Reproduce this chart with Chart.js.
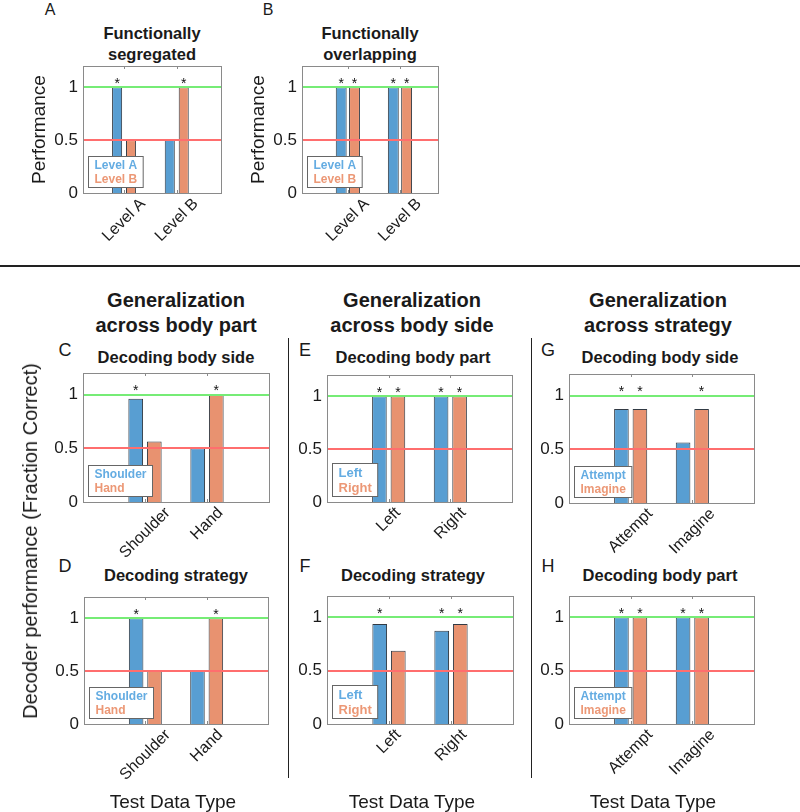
<!DOCTYPE html>
<html lang="en">
<head>
    <meta charset="UTF-8">
    <title>Decoder performance</title>
    <script src="https://cdn.jsdelivr.net/npm/chart.js"></script>
    <style>
        body { margin: 0; background: #fff; }
        #fig {
            position: relative;
            width: 800px;
            height: 812px;
            background: #fff;
            font-family: 'Liberation Sans', Arial, sans-serif;
            color: #1a1a1a;
            overflow: hidden;
        }
        #fig canvas { position: absolute; }
        .txt {
            position: absolute;
            white-space: nowrap;
            line-height: 1;
            transform: translate(-50%, -50%);
        }
        .rule { position: absolute; background: #222; }
    </style>
</head>
<body>
    <div id="fig"></div>

    <script>
        // ---- data ----
        const catPos = [1, 2];
        const yTicks = [0, 0.5, 1];

        const catsLevel = ['Level A', 'Level B'];
        const segLevelA = [1, 0.5];
        const segLevelB = [0.5, 1];
        const segSigA = [1, 0];
        const segSigB = [0, 1];
        const ovlLevelA = [1, 1];
        const ovlLevelB = [1, 1];
        const ovlSigA = [1, 1];
        const ovlSigB = [1, 1];

        const catsPart = ['Shoulder', 'Hand'];
        const sideShoulder = [0.96, 0.5];
        const sideHand = [0.5625, 1];
        const sideSigShoulder = [1, 0];
        const sideSigHand = [0, 1];
        const stratShoulder = [1, 0.5];
        const stratHand = [0.5, 1];
        const stratSigShoulder = [1, 0];
        const stratSigHand = [0, 1];

        const catsSide = ['Left', 'Right'];
        const partLeft = [1, 1];
        const partRight = [1, 1];
        const partSigLeft = [1, 1];
        const partSigRight = [1, 1];
        const strat2Left = [0.9375, 0.875];
        const strat2Right = [0.6875, 0.9375];
        const strat2SigLeft = [1, 1];
        const strat2SigRight = [0, 1];

        const catsStrategy = ['Attempt', 'Imagine'];
        const side2Attempt = [0.875, 0.5625];
        const side2Imagine = [0.875, 0.875];
        const side2SigAttempt = [1, 0];
        const side2SigImagine = [1, 1];
        const part2Attempt = [1, 1];
        const part2Imagine = [1, 1];
        const part2SigAttempt = [1, 1];
        const part2SigImagine = [1, 1];

        // ---- styling ----
        const FONT = "'Liberation Sans', Arial, sans-serif";
        const BLUE = 'rgb(88,158,210)';
        const ORANGE = 'rgb(232,146,112)';
        const BLUE_TXT = 'rgb(100,172,226)';
        const ORANGE_TXT = 'rgb(236,152,118)';
        const EDGE = 'rgb(50,58,68)';
        Chart.defaults.font.family = FONT;

        const fig = document.getElementById('fig');

        function text(str, x, y, size, bold, rot) {
            const d = document.createElement('div');
            d.className = 'txt';
            d.textContent = str;
            d.style.left = x + 'px';
            d.style.top = y + 'px';
            d.style.fontSize = size + 'px';
            if (bold) d.style.fontWeight = 'bold';
            if (rot) d.style.transform = 'translate(-50%, -50%) rotate(' + rot + 'deg)';
            fig.appendChild(d);
        }

        function rule(x, y, w, h) {
            const d = document.createElement('div');
            d.className = 'rule';
            d.style.left = x + 'px';
            d.style.top = y + 'px';
            d.style.width = w + 'px';
            d.style.height = h + 'px';
            fig.appendChild(d);
        }

        function hline(ctx, a, py, color) {
            ctx.strokeStyle = color;
            ctx.lineWidth = 2;
            ctx.beginPath();
            ctx.moveTo(a.left, Math.round(py));
            ctx.lineTo(a.right, Math.round(py));
            ctx.stroke();
        }

        // box, reference lines, asterisks, inset legend and rotated category labels
        const panelDecor = {
            id: 'panelDecor',
            afterDatasetsDraw(chart, args, opts) {
                const { ctx, chartArea: a, scales: { x, y } } = chart;
                ctx.save();

                // perfect and chance lines, drawn over the bars
                hline(ctx, a, y.getPixelForValue(1), 'rgb(118,236,118)');
                hline(ctx, a, y.getPixelForValue(0.5), 'rgb(255,110,110)');

                // axes box with small inward ticks
                ctx.lineWidth = 1;
                ctx.strokeStyle = '#8a8a8a';
                ctx.strokeRect(Math.round(a.left) + 0.5, Math.round(a.top) + 0.5,
                    Math.round(a.right - a.left), Math.round(a.bottom - a.top));
                ctx.beginPath();
                catPos.forEach(v => {
                    const px = Math.round(x.getPixelForValue(v)) + 0.5;
                    ctx.moveTo(px, a.top); ctx.lineTo(px, a.top + 3);
                    ctx.moveTo(px, a.bottom); ctx.lineTo(px, a.bottom - 3);
                });
                ctx.stroke();

                // significance stars
                ctx.fillStyle = '#111';
                ctx.font = '14px ' + FONT;
                ctx.textAlign = 'center';
                ctx.textBaseline = 'alphabetic';
                opts.sig.forEach((flags, di) => {
                    const meta = chart.getDatasetMeta(di);
                    flags.forEach((f, i) => {
                        if (!f) return;
                        ctx.fillText('*', meta.data[i].x, y.getPixelForValue(1) + 0.5);
                    });
                });

                // inset legend
                const fs = opts.legendFont;
                ctx.font = 'bold ' + fs + 'px ' + FONT;
                const labels = chart.data.datasets.map(d => d.label);
                const w = Math.max(...labels.map(l => ctx.measureText(l).width)) + 12;
                const lh = fs + 2;
                const h = lh * labels.length + 3;
                const lx = Math.round(a.left + 5) + 0.5;
                const ly = Math.round(a.bottom - 6 - h) + 0.5;
                ctx.fillStyle = '#fff';
                ctx.fillRect(lx, ly, w, h);
                ctx.strokeStyle = '#666';
                ctx.strokeRect(lx, ly, w, h);
                ctx.textAlign = 'left';
                ctx.textBaseline = 'middle';
                labels.forEach((l, i) => {
                    ctx.fillStyle = i === 0 ? BLUE_TXT : ORANGE_TXT;
                    ctx.fillText(l, lx + 6, ly + 2 + lh * (i + 0.5));
                });

                // rotated category labels, centred under each tick
                ctx.fillStyle = '#1a1a1a';
                ctx.font = '16px ' + FONT;
                ctx.textAlign = 'center';
                ctx.textBaseline = 'middle';
                opts.cats.forEach((c, i) => {
                    const tw = ctx.measureText(c).width;
                    const cx = x.getPixelForValue(catPos[i]);
                    const cy = a.bottom + 4 + (tw + 12) * Math.SQRT1_2 / 2;
                    ctx.save();
                    ctx.translate(cx, cy);
                    ctx.rotate(-Math.PI / 4);
                    ctx.fillText(c, 0, 0);
                    ctx.restore();
                });

                ctx.restore();
            }
        };

        function makePanel(p) {
            const ML = p.yTitle ? 63 : 50, MR = 6, MT = 22, MB = 75;
            const [l, t, r, b] = p.box;
            const canvas = document.createElement('canvas');
            canvas.width = (r - l) + ML + MR;
            canvas.height = (b - t) + MT + MB;
            canvas.style.left = (l - ML) + 'px';
            canvas.style.top = (t - MT) + 'px';
            fig.appendChild(canvas);

            const series = [
                { label: p.names[0], values: p.a, color: BLUE },
                { label: p.names[1], values: p.b, color: ORANGE }
            ];

            new Chart(canvas, {
                type: 'bar',
                data: {
                    datasets: series.map(s => ({
                        label: s.label,
                        data: catPos.map((xv, i) => ({ x: xv, y: s.values[i] })),
                        backgroundColor: s.color,
                        borderColor: EDGE,
                        borderWidth: 1,
                        categoryPercentage: p.catPct,
                        barPercentage: p.barPct
                    }))
                },
                options: {
                    responsive: false,
                    animation: false,
                    layout: { autoPadding: false, padding: { top: MT, right: MR, left: 0, bottom: 0 } },
                    plugins: {
                        legend: { display: false },
                        tooltip: { enabled: false },
                        panelDecor: { sig: [p.sigA, p.sigB], cats: p.names, legendFont: p.legendFont }
                    },
                    scales: {
                        x: {
                            type: 'linear',
                            min: p.xRange[0],
                            max: p.xRange[1],
                            offset: false,
                            grid: { display: false, drawTicks: false },
                            border: { display: false },
                            ticks: { display: false },
                            afterBuildTicks: s => { s.ticks = catPos.map(v => ({ value: v })); },
                            afterFit: s => { s.height = MB; s.paddingLeft = 0; s.paddingRight = 0; }
                        },
                        y: {
                            min: 0,
                            max: 1.2,
                            grid: { display: false, drawTicks: false },
                            border: { display: false },
                            ticks: { padding: 5, color: '#1a1a1a', font: { size: 17 }, callback: v => String(v) },
                            afterBuildTicks: s => { s.ticks = yTicks.map(v => ({ value: v })); },
                            afterFit: s => { s.width = ML; s.paddingTop = 0; s.paddingBottom = 0; },
                            title: {
                                display: !!p.yTitle,
                                text: p.yTitle || '',
                                color: '#1a1a1a',
                                font: { size: 19 },
                                padding: { top: 8, bottom: 0 }
                            }
                        }
                    }
                },
                plugins: [panelDecor]
            });
        }

        // ---- top row ----
        text('A', 50, 10, 16);
        text('B', 268, 10, 16);
        text('Functionally', 152, 33, 16.5, true);
        text('segregated', 152, 54, 16.5, true);
        text('Functionally', 370, 33, 16.5, true);
        text('overlapping', 370, 54, 16.5, true);

        makePanel({ box: [83, 66, 221, 193], xRange: [0.22, 2.84], catPct: 0.53, barPct: 0.72,
            names: catsLevel, a: segLevelA, b: segLevelB, sigA: segSigA, sigB: segSigB,
            yTitle: 'Performance', legendFont: 12 });
        makePanel({ box: [302, 66, 438, 193], xRange: [0.12, 2.73], catPct: 0.51, barPct: 0.82,
            names: catsLevel, a: ovlLevelA, b: ovlLevelB, sigA: ovlSigA, sigB: ovlSigB,
            yTitle: 'Performance', legendFont: 12 });

        rule(0, 265, 800, 1.5);

        // ---- generalization columns ----
        text('Generalization', 176, 300, 20, true);
        text('across body part', 176, 325, 20, true);
        text('Generalization', 412, 300, 20, true);
        text('across body side', 412, 325, 20, true);
        text('Generalization', 658, 300, 20, true);
        text('across strategy', 658, 325, 20, true);

        rule(287.5, 338, 1.5, 440);
        rule(530.5, 338, 1.5, 440);

        text('C', 65, 350, 18);
        text('E', 305, 350, 18);
        text('G', 548, 350, 18);
        text('D', 65, 566, 18);
        text('F', 305, 566, 18);
        text('H', 548, 566, 18);

        text('Decoding body side', 176, 357, 16.5, true);
        text('Decoding body part', 413, 357, 16.5, true);
        text('Decoding body side', 660, 357, 16.5, true);
        text('Decoding strategy', 176, 575, 16.5, true);
        text('Decoding strategy', 413, 575, 16.5, true);
        text('Decoding body part', 660, 575, 16.5, true);

        makePanel({ box: [83, 373, 269, 502], xRange: [0, 3], catPct: 0.6, barPct: 0.79,
            names: catsPart, a: sideShoulder, b: sideHand, sigA: sideSigShoulder, sigB: sideSigHand, legendFont: 12 });
        makePanel({ box: [84, 597, 268, 724], xRange: [0, 3], catPct: 0.6, barPct: 0.79,
            names: catsPart, a: stratShoulder, b: stratHand, sigA: stratSigShoulder, sigB: stratSigHand, legendFont: 12 });
        makePanel({ box: [327, 375, 512, 502], xRange: [0, 3], catPct: 0.6, barPct: 0.79,
            names: catsSide, a: partLeft, b: partRight, sigA: partSigLeft, sigB: partSigRight, legendFont: 13 });
        makePanel({ box: [327, 596, 513, 724], xRange: [0, 3], catPct: 0.6, barPct: 0.79,
            names: catsSide, a: strat2Left, b: strat2Right, sigA: strat2SigLeft, sigB: strat2SigRight, legendFont: 13 });
        makePanel({ box: [569, 374, 754, 503], xRange: [0, 3], catPct: 0.6, barPct: 0.79,
            names: catsStrategy, a: side2Attempt, b: side2Imagine, sigA: side2SigAttempt, sigB: side2SigImagine, legendFont: 12 });
        makePanel({ box: [569, 596, 754, 724], xRange: [0, 3], catPct: 0.6, barPct: 0.79,
            names: catsStrategy, a: part2Attempt, b: part2Imagine, sigA: part2SigAttempt, sigB: part2SigImagine, legendFont: 12 });

        text('Decoder performance (Fraction Correct)', 30, 541, 20, false, -90);
        text('Test Data Type', 173, 801, 19);
        text('Test Data Type', 412, 801, 19);
        text('Test Data Type', 653, 801, 19);
    </script>
</body>
</html>
